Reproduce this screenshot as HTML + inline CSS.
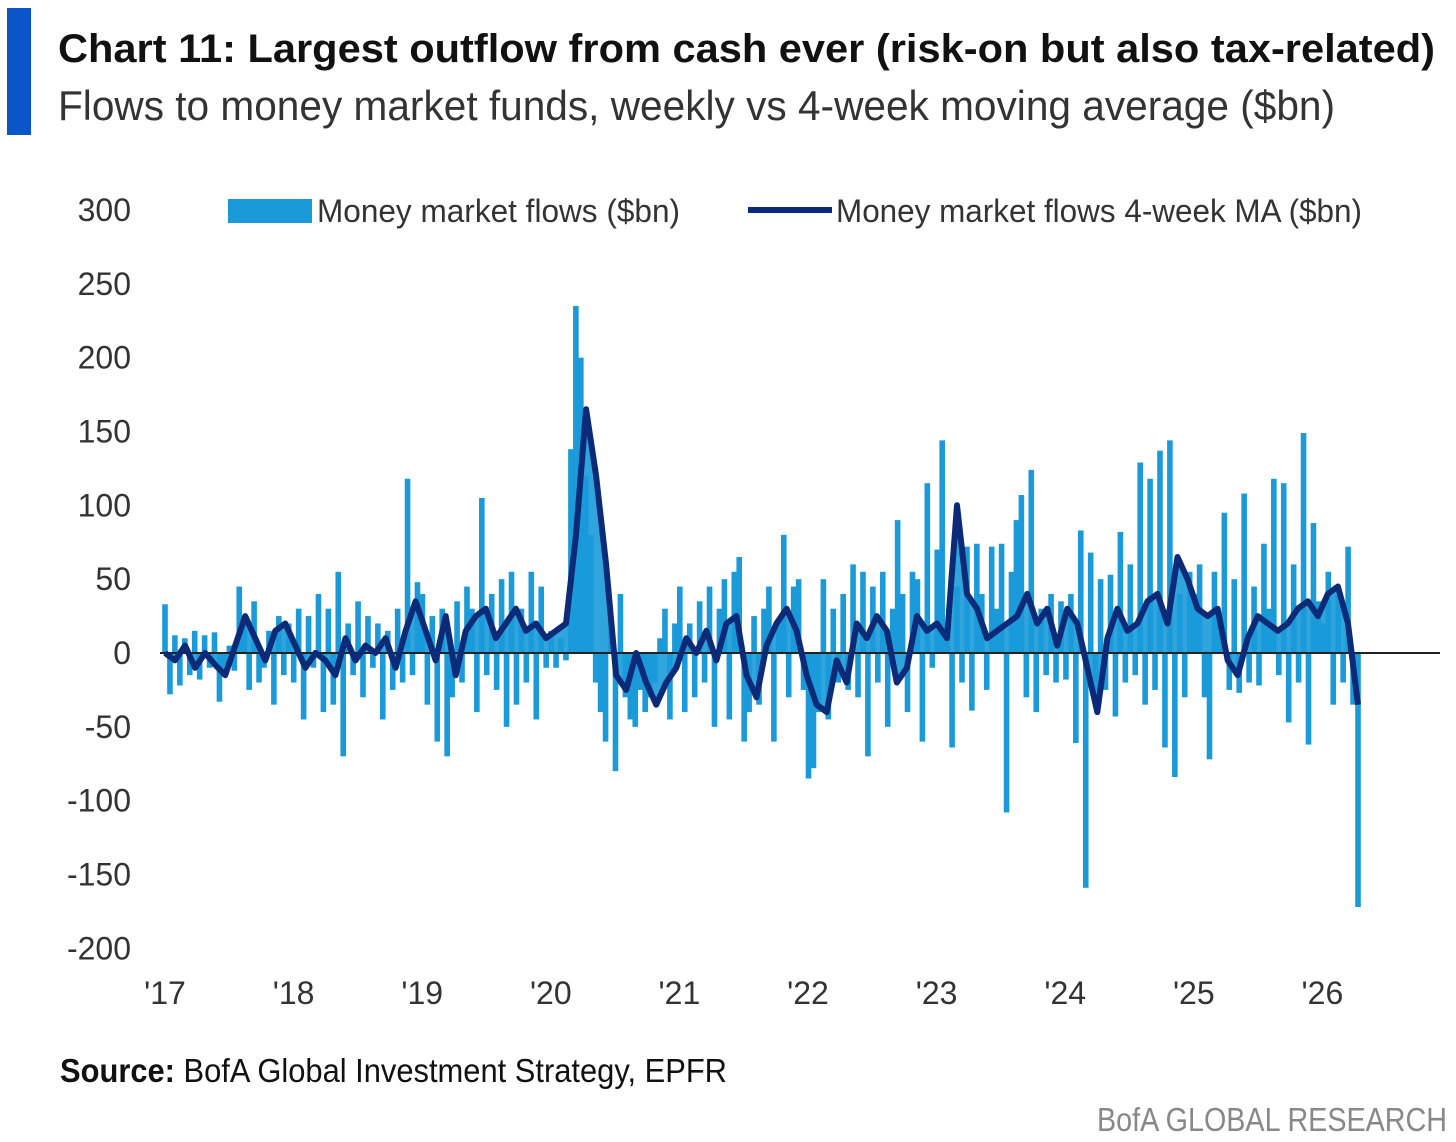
<!DOCTYPE html>
<html><head><meta charset="utf-8"><style>
html,body{margin:0;padding:0;background:#fff;}
svg{display:block;font-family:"Liberation Sans",sans-serif;}
</style></head><body>
<svg id="chart" width="1456" height="1142" viewBox="0 0 1456 1142" xmlns="http://www.w3.org/2000/svg">
<rect x="7" y="8" width="24" height="127" fill="#0a56c9"/>
<text x="58" y="62" font-size="40" font-weight="bold" fill="#111" textLength="1377" lengthAdjust="spacingAndGlyphs">Chart 11: Largest outflow from cash ever (risk-on but also tax-related)</text>
<text x="58" y="120" font-size="42" fill="#333" textLength="1277" lengthAdjust="spacingAndGlyphs">Flows to money market funds, weekly vs 4-week moving average ($bn)</text>
<g id="yaxis"></g>
<g id="xaxis"></g>
<g id="bars"></g>
<path id="maArea" fill="#1a9ad9" opacity="0.9"/>
<line id="zeroLine" x1="160" x2="1440" stroke="#222" stroke-width="2"/>
<path id="maLine" fill="none" stroke="#0b2a78" stroke-width="6" stroke-linejoin="round"/>
<g>
<rect x="228" y="199" width="84" height="24" fill="#1a9ad9"/>
<text x="317" y="222" font-size="32" fill="#333" textLength="363" lengthAdjust="spacingAndGlyphs">Money market flows ($bn)</text>
<line x1="748" x2="832" y1="210" y2="210" stroke="#0b2a78" stroke-width="6"/>
<text x="836" y="222" font-size="32" fill="#333" textLength="526" lengthAdjust="spacingAndGlyphs">Money market flows 4-week MA ($bn)</text>
</g>
<text x="60" y="1082" font-size="33" fill="#111" textLength="667" lengthAdjust="spacingAndGlyphs"><tspan font-weight="bold">Source:</tspan> BofA Global Investment Strategy, EPFR</text>
<text x="1447" y="1131" font-size="33" fill="#888" text-anchor="end" textLength="350" lengthAdjust="spacingAndGlyphs">BofA GLOBAL RESEARCH</text>
</svg>
<script>
const yTicks = [300,250,200,150,100,50,0,-50,-100,-150,-200];
const xTickLabels = ["'17","'18","'19","'20","'21","'22","'23","'24","'25","'26"];
const flows2017 = [33,-28,12,-22,10,-15,15,-18,12,-10,14,-33,-15,5,-12,45,20,-25,35,-20,-10,15,-35,25,-15,20];
const flows2018 = [-20,30,-45,25,-10,40,-40,30,-35,55,-70,20,-15,35,-30,25,-10,20,-45,15,-25,30,-20,118,-15,48];
const flows2019 = [40,-35,25,-60,30,-70,-30,35,-20,45,30,-40,105,-15,40,-25,50,-50,55,-35,30,-20,55,-45,45,-10];
const flows2020 = [15,-10,10,-5,138,235,200,120,80,-20,-40,-60,25,-80,40,-30,-45,-50,-25,-40,-30,-20,10,30,-45,20];
const flows2021 = [45,-40,20,-30,35,-20,45,-50,30,50,-45,55,65,-60,-40,25,-35,30,45,-60,20,80,-30,45,50,-25];
const flows2022 = [-85,-78,-40,50,-45,30,-20,40,-25,60,-30,55,-70,45,-20,55,-50,30,90,40,-40,55,50,-60,115,-10];
const flows2023 = [70,144,20,-64,45,-20,72,-39,74,40,-25,72,30,74,-108,55,90,107,-30,124,-40,30,-15,40,-20,35];
const flows2024 = [-18,40,-61,83,-159,68,-30,50,-25,53,-43,82,-20,60,-15,129,-35,118,-25,137,-64,144,-84,40,-30,55];
const flows2025 = [40,60,-30,-72,55,20,95,-25,50,-27,108,-20,45,-22,74,30,118,-15,115,-47,60,-20,149,-62,88,35];
const flows2026 = [20,55,-35,40,-20,72,-35,-172];
const ma2017 = [0,-5,5,-10,0,-8,-15,5,25,10,-5,15,20];
const ma2018 = [5,-10,0,-5,-15,10,-5,5,0,10,-10,15,35];
const ma2019 = [15,-5,25,-15,15,25,30,10,20,30,15,20,10];
const ma2020 = [15,20,80,165,120,60,-15,-25,0,-20,-35,-20,-10];
const ma2021 = [10,0,15,-5,20,25,-15,-30,5,20,30,15,-15];
const ma2022 = [-35,-40,-5,-20,20,10,25,15,-20,-10,25,15,20];
const ma2023 = [10,100,40,30,10,15,20,25,40,20,30,5,30];
const ma2024 = [20,-10,-40,10,30,15,20,35,40,20,65,50,30];
const ma2025 = [25,30,-5,-15,10,25,20,15,20,30,35,25,40];
const ma2026 = [45,20,-35];

const flows = [].concat(flows2017,flows2018,flows2019,flows2020,flows2021,flows2022,flows2023,flows2024,flows2025,flows2026);
const ma = [].concat(ma2017,ma2018,ma2019,ma2020,ma2021,ma2022,ma2023,ma2024,ma2025,ma2026);
const NS='http://www.w3.org/2000/svg';
const X0=165, X1=1358, YEAR0=165, YEARW=128.6;
const y = v => 653 - v*1.4767;
const xBar = i => X0 + i*(X1-X0)/(flows.length-1);
const xMa = i => X0 + i*(X1-X0)/(ma.length-1);

const ya=document.getElementById('yaxis');
yTicks.forEach(t=>{
  const tx=document.createElementNS(NS,'text');
  
  
  tx.setAttribute('x',131);tx.setAttribute('y',y(t)+11);
  tx.setAttribute('text-anchor','end');tx.setAttribute('font-size','32');tx.setAttribute('fill','#333');
  tx.textContent=t;ya.appendChild(tx);
});
const xa=document.getElementById('xaxis');
xTickLabels.forEach((l,i)=>{
  const tx=document.createElementNS(NS,'text');
  
  
  tx.setAttribute('x',YEAR0+i*YEARW);tx.setAttribute('y',1004);
  tx.setAttribute('text-anchor','middle');tx.setAttribute('font-size','32');tx.setAttribute('fill','#333');
  tx.textContent=l;xa.appendChild(tx);
});
const bg=document.getElementById('bars');
flows.forEach((v,i)=>{
  const r=document.createElementNS(NS,'rect');
  
  
  const y0=y(0), yv=y(v);
  r.setAttribute('x',xBar(i)-2.8);r.setAttribute('width',5.6);
  r.setAttribute('y',Math.min(y0,yv));r.setAttribute('height',Math.abs(yv-y0));
  r.setAttribute('fill','#1a9ad9');
  bg.appendChild(r);
});
let d='';
ma.forEach((v,i)=>{d+=(i?'L':'M')+xMa(i).toFixed(1)+','+y(v).toFixed(1);});
document.getElementById('maLine').setAttribute('d',d);
document.getElementById('maArea').setAttribute('d',d+'L'+xMa(ma.length-1)+','+y(0)+'L'+X0+','+y(0)+'Z');
const z=document.getElementById('zeroLine');z.setAttribute('y1',y(0));z.setAttribute('y2',y(0));
</script>
</body></html>
